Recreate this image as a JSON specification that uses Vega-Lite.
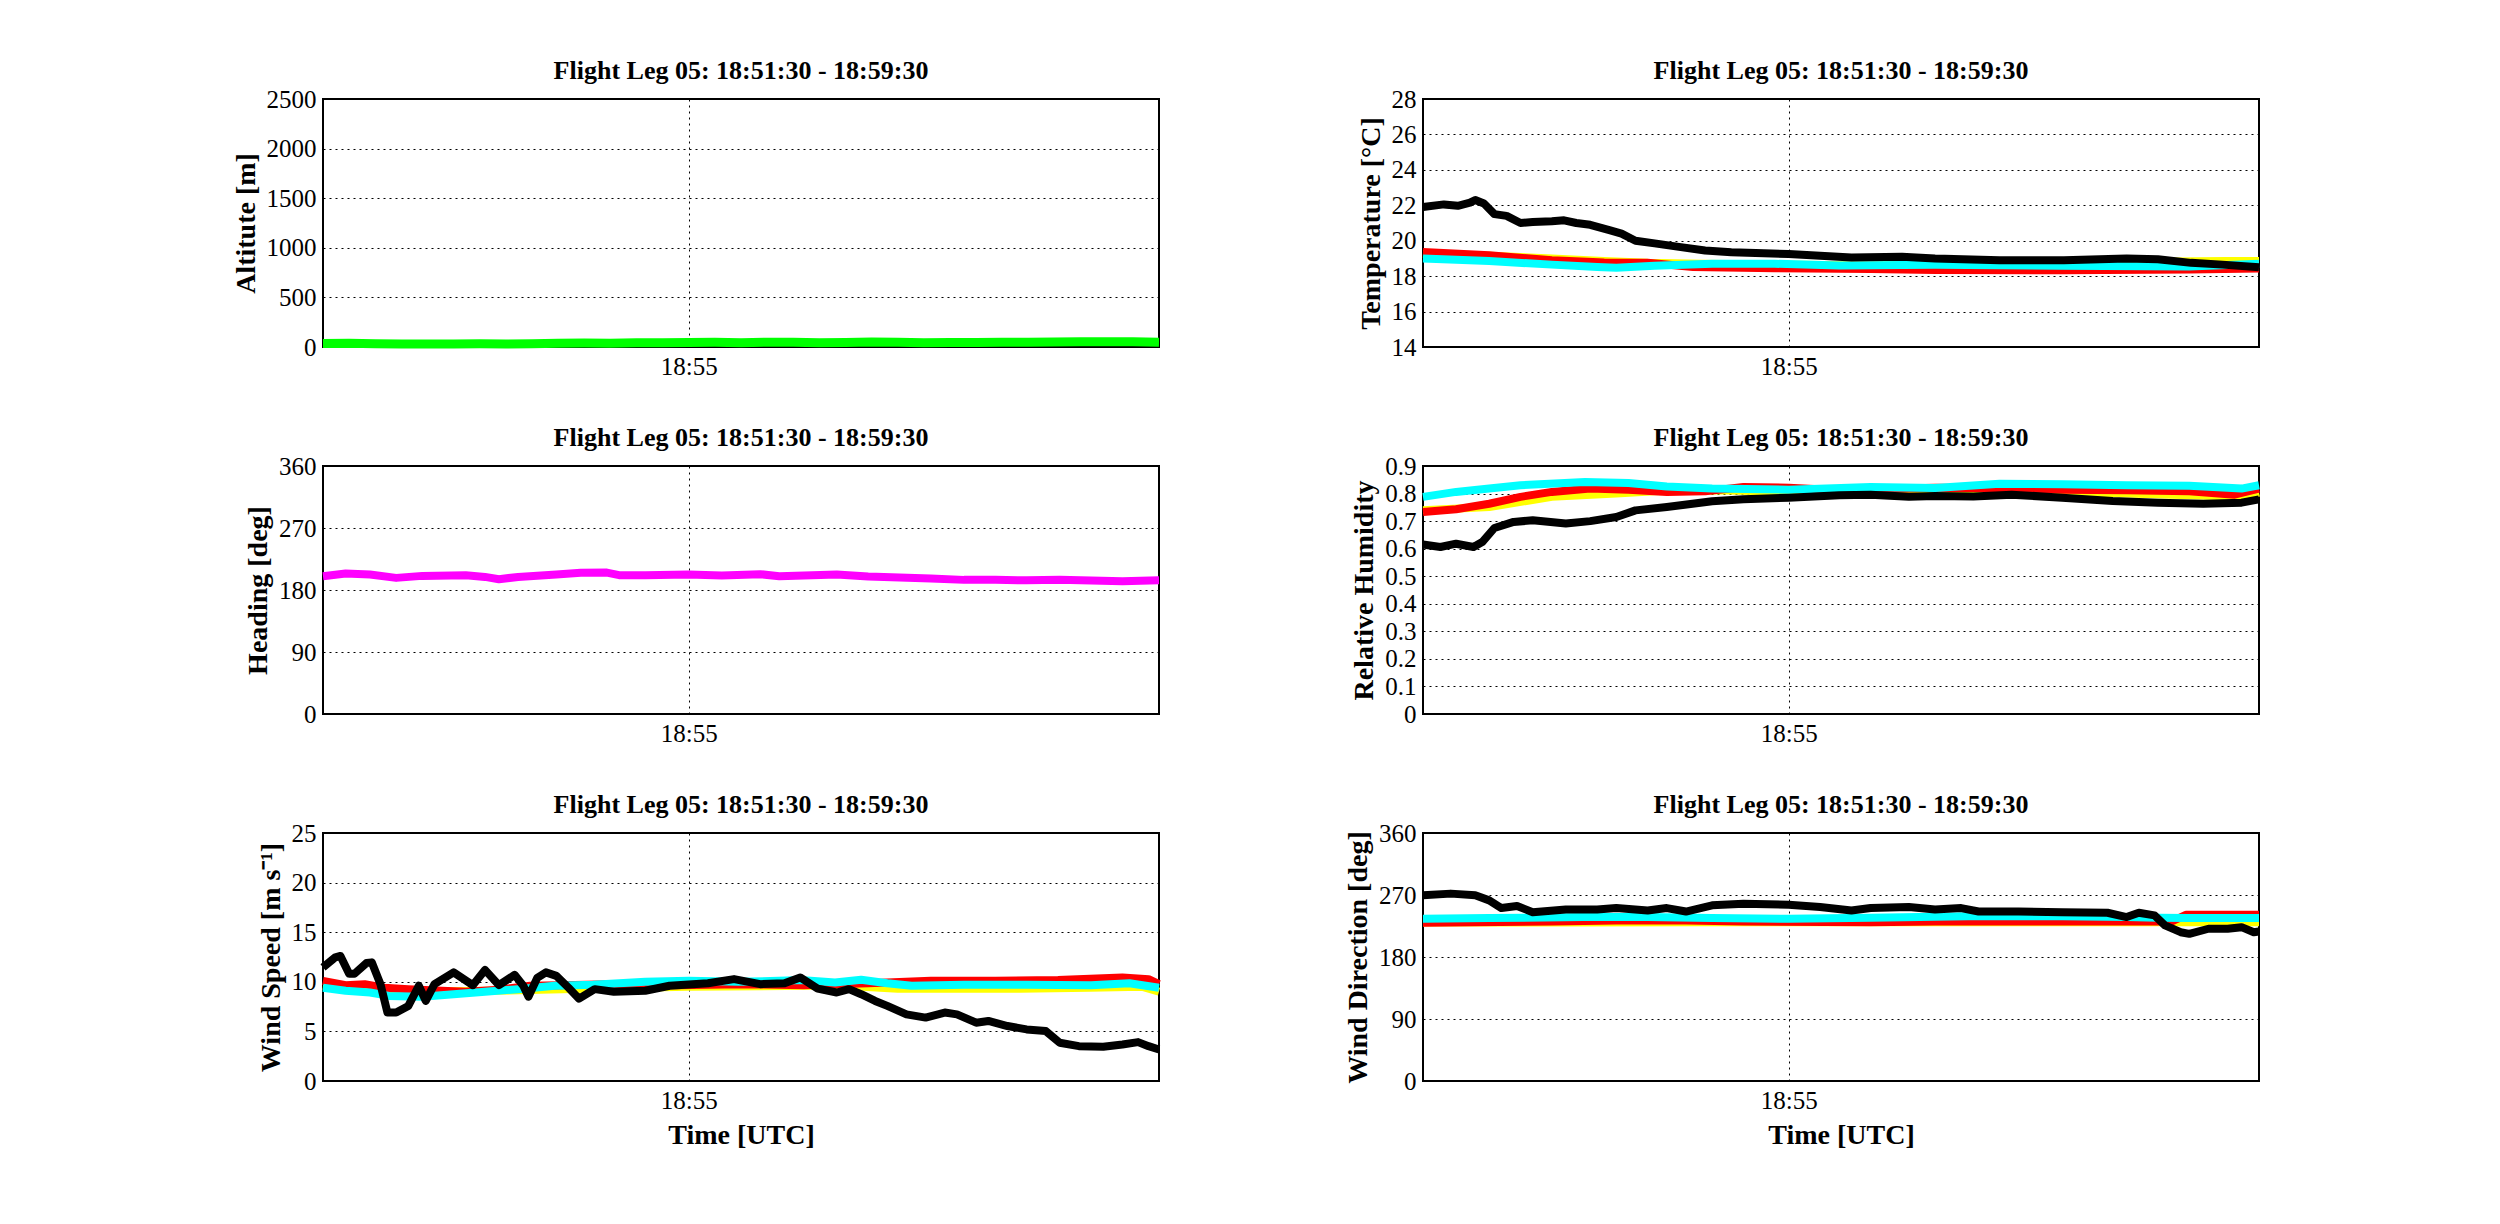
{
  "$schema": "https://vega.github.io/schema/vega-lite/v6.json",
  "background": "white",
  "padding": {"left": 231, "top": 57, "right": 20, "bottom": 20},
  "columns": 2,
  "spacing": {"row": 119, "column": 264},
  "bounds": "flush",
  "config": {
    "font": "Liberation Serif",
    "view": {"stroke": "black", "strokeWidth": 2},
    "axis": {
      "labelFont": "Liberation Serif", "labelFontSize": 25, "labelColor": "black",
      "titleFont": "Liberation Serif", "titleFontSize": 28, "titleFontWeight": "bold", "titleColor": "black",
      "ticks": false, "domain": false, "grid": true, "gridColor": "black", "gridDash": [2, 4],
      "gridWidth": 1, "gridOpacity": 1, "labelPadding": 7, "titlePadding": 6,
      "labelFlush": false, "labelOverlap": false
    },
    "title": {"font": "Liberation Serif", "fontSize": 26, "fontWeight": "bold", "color": "black", "offset": 3},
    "line": {"strokeJoin": "round", "clip": true}
  },
  "datasets": {
    "altitude": [
      {"time": "18:51:30", "value": 35}, {"time": "18:51:45", "value": 38}, {"time": "18:52:00", "value": 32},
      {"time": "18:52:15", "value": 30}, {"time": "18:52:30", "value": 30}, {"time": "18:52:45", "value": 31},
      {"time": "18:53:00", "value": 32}, {"time": "18:53:15", "value": 30}, {"time": "18:53:30", "value": 33},
      {"time": "18:53:45", "value": 38}, {"time": "18:54:00", "value": 40}, {"time": "18:54:15", "value": 37},
      {"time": "18:54:30", "value": 42}, {"time": "18:54:45", "value": 44}, {"time": "18:55:00", "value": 45},
      {"time": "18:55:15", "value": 47}, {"time": "18:55:30", "value": 44}, {"time": "18:55:45", "value": 48},
      {"time": "18:56:00", "value": 48}, {"time": "18:56:15", "value": 44}, {"time": "18:56:30", "value": 46},
      {"time": "18:56:45", "value": 50}, {"time": "18:57:00", "value": 47}, {"time": "18:57:15", "value": 44},
      {"time": "18:57:30", "value": 46}, {"time": "18:57:45", "value": 45}, {"time": "18:58:00", "value": 48},
      {"time": "18:58:15", "value": 47}, {"time": "18:58:30", "value": 50}, {"time": "18:58:45", "value": 52},
      {"time": "18:59:00", "value": 53}, {"time": "18:59:15", "value": 52}, {"time": "18:59:30", "value": 48}
    ],
    "heading": [
      {"time": "18:51:30", "value": 200}, {"time": "18:51:43", "value": 204}, {"time": "18:51:57", "value": 202.5},
      {"time": "18:52:12", "value": 197.6}, {"time": "18:52:27", "value": 200.5}, {"time": "18:52:52", "value": 201.5},
      {"time": "18:53:03", "value": 199}, {"time": "18:53:11", "value": 195.7}, {"time": "18:53:22", "value": 199},
      {"time": "18:53:44", "value": 202.5}, {"time": "18:53:58", "value": 205}, {"time": "18:54:13", "value": 205.3},
      {"time": "18:54:20", "value": 201.5}, {"time": "18:54:35", "value": 201.5}, {"time": "18:55:00", "value": 202.5},
      {"time": "18:55:19", "value": 201}, {"time": "18:55:41", "value": 203}, {"time": "18:55:52", "value": 200},
      {"time": "18:56:25", "value": 202.5}, {"time": "18:56:43", "value": 199.5}, {"time": "18:57:01", "value": 198},
      {"time": "18:57:19", "value": 196.6}, {"time": "18:57:38", "value": 194.7}, {"time": "18:57:56", "value": 194.7},
      {"time": "18:58:14", "value": 194}, {"time": "18:58:33", "value": 194.7}, {"time": "18:58:51", "value": 193.7},
      {"time": "18:59:09", "value": 192.8}, {"time": "18:59:30", "value": 194}
    ],
    "temperature": [
      {"time": "18:51:30", "series": "A", "value": 19.25}, {"time": "18:52:08", "series": "A", "value": 19.15},
      {"time": "18:52:44", "series": "A", "value": 19.0}, {"time": "18:53:14", "series": "A", "value": 18.85},
      {"time": "18:53:39", "series": "A", "value": 18.75}, {"time": "18:54:10", "series": "A", "value": 18.7},
      {"time": "18:55:47", "series": "A", "value": 18.6}, {"time": "18:57:00", "series": "A", "value": 18.75},
      {"time": "18:58:10", "series": "A", "value": 18.8}, {"time": "18:59:10", "series": "A", "value": 18.85},
      {"time": "18:59:30", "series": "A", "value": 18.85},
      {"time": "18:51:30", "series": "B", "value": 19.37}, {"time": "18:52:08", "series": "B", "value": 19.18},
      {"time": "18:52:44", "series": "B", "value": 18.9}, {"time": "18:53:14", "series": "B", "value": 18.77},
      {"time": "18:53:39", "series": "B", "value": 18.75}, {"time": "18:54:05", "series": "B", "value": 18.52},
      {"time": "18:54:52", "series": "B", "value": 18.45}, {"time": "18:55:47", "series": "B", "value": 18.4},
      {"time": "18:56:24", "series": "B", "value": 18.35}, {"time": "18:57:37", "series": "B", "value": 18.33},
      {"time": "18:58:50", "series": "B", "value": 18.37}, {"time": "18:59:30", "series": "B", "value": 18.43},
      {"time": "18:51:30", "series": "C", "value": 19.0}, {"time": "18:52:08", "series": "C", "value": 18.85},
      {"time": "18:52:44", "series": "C", "value": 18.65}, {"time": "18:53:10", "series": "C", "value": 18.52},
      {"time": "18:53:21", "series": "C", "value": 18.48}, {"time": "18:53:43", "series": "C", "value": 18.58},
      {"time": "18:54:16", "series": "C", "value": 18.7}, {"time": "18:54:52", "series": "C", "value": 18.7},
      {"time": "18:55:29", "series": "C", "value": 18.6}, {"time": "18:56:24", "series": "C", "value": 18.65},
      {"time": "18:57:37", "series": "C", "value": 18.58}, {"time": "18:58:50", "series": "C", "value": 18.55},
      {"time": "18:59:30", "series": "C", "value": 18.7},
      {"time": "18:51:30", "series": "D", "value": 21.9}, {"time": "18:51:42", "series": "D", "value": 22.05},
      {"time": "18:51:50", "series": "D", "value": 21.97}, {"time": "18:51:57", "series": "D", "value": 22.15},
      {"time": "18:52:00", "series": "D", "value": 22.3}, {"time": "18:52:05", "series": "D", "value": 22.1},
      {"time": "18:52:11", "series": "D", "value": 21.5}, {"time": "18:52:18", "series": "D", "value": 21.4},
      {"time": "18:52:26", "series": "D", "value": 21.0}, {"time": "18:52:33", "series": "D", "value": 21.05},
      {"time": "18:52:44", "series": "D", "value": 21.1}, {"time": "18:52:51", "series": "D", "value": 21.15},
      {"time": "18:52:58", "series": "D", "value": 21.0}, {"time": "18:53:06", "series": "D", "value": 20.9},
      {"time": "18:53:17", "series": "D", "value": 20.6}, {"time": "18:53:24", "series": "D", "value": 20.4},
      {"time": "18:53:32", "series": "D", "value": 20.0}, {"time": "18:53:43", "series": "D", "value": 19.85},
      {"time": "18:53:57", "series": "D", "value": 19.65}, {"time": "18:54:12", "series": "D", "value": 19.45},
      {"time": "18:54:27", "series": "D", "value": 19.35}, {"time": "18:54:41", "series": "D", "value": 19.3},
      {"time": "18:55:00", "series": "D", "value": 19.25}, {"time": "18:55:18", "series": "D", "value": 19.15},
      {"time": "18:55:36", "series": "D", "value": 19.05}, {"time": "18:56:05", "series": "D", "value": 19.1},
      {"time": "18:56:24", "series": "D", "value": 19.0}, {"time": "18:57:01", "series": "D", "value": 18.9},
      {"time": "18:57:38", "series": "D", "value": 18.9}, {"time": "18:58:14", "series": "D", "value": 19.0},
      {"time": "18:58:32", "series": "D", "value": 18.95}, {"time": "18:58:51", "series": "D", "value": 18.75},
      {"time": "18:59:09", "series": "D", "value": 18.65}, {"time": "18:59:30", "series": "D", "value": 18.5}
    ],
    "humidity": [
      {"time": "18:51:30", "series": "A", "value": 0.739}, {"time": "18:52:08", "series": "A", "value": 0.751},
      {"time": "18:52:44", "series": "A", "value": 0.788}, {"time": "18:53:21", "series": "A", "value": 0.80},
      {"time": "18:53:43", "series": "A", "value": 0.808}, {"time": "18:54:16", "series": "A", "value": 0.812},
      {"time": "18:55:11", "series": "A", "value": 0.806}, {"time": "18:56:24", "series": "A", "value": 0.803},
      {"time": "18:57:01", "series": "A", "value": 0.814}, {"time": "18:57:37", "series": "A", "value": 0.806},
      {"time": "18:58:14", "series": "A", "value": 0.80}, {"time": "18:58:50", "series": "A", "value": 0.794},
      {"time": "18:59:20", "series": "A", "value": 0.788}, {"time": "18:59:30", "series": "A", "value": 0.803},
      {"time": "18:51:30", "series": "B", "value": 0.733}, {"time": "18:51:49", "series": "B", "value": 0.743},
      {"time": "18:52:08", "series": "B", "value": 0.763}, {"time": "18:52:26", "series": "B", "value": 0.788},
      {"time": "18:52:44", "series": "B", "value": 0.806}, {"time": "18:53:06", "series": "B", "value": 0.818},
      {"time": "18:53:28", "series": "B", "value": 0.814}, {"time": "18:53:50", "series": "B", "value": 0.806},
      {"time": "18:54:12", "series": "B", "value": 0.808}, {"time": "18:54:34", "series": "B", "value": 0.824},
      {"time": "18:55:00", "series": "B", "value": 0.821}, {"time": "18:55:29", "series": "B", "value": 0.812},
      {"time": "18:56:24", "series": "B", "value": 0.821}, {"time": "18:57:01", "series": "B", "value": 0.82},
      {"time": "18:57:37", "series": "B", "value": 0.814}, {"time": "18:58:14", "series": "B", "value": 0.812},
      {"time": "18:58:50", "series": "B", "value": 0.808}, {"time": "18:59:16", "series": "B", "value": 0.796},
      {"time": "18:59:30", "series": "B", "value": 0.818},
      {"time": "18:51:30", "series": "C", "value": 0.788}, {"time": "18:51:49", "series": "C", "value": 0.806},
      {"time": "18:52:08", "series": "C", "value": 0.818}, {"time": "18:52:26", "series": "C", "value": 0.83},
      {"time": "18:53:03", "series": "C", "value": 0.842}, {"time": "18:53:28", "series": "C", "value": 0.838},
      {"time": "18:53:50", "series": "C", "value": 0.826}, {"time": "18:54:16", "series": "C", "value": 0.818},
      {"time": "18:55:00", "series": "C", "value": 0.814}, {"time": "18:55:47", "series": "C", "value": 0.824},
      {"time": "18:56:24", "series": "C", "value": 0.82}, {"time": "18:57:01", "series": "C", "value": 0.836},
      {"time": "18:57:37", "series": "C", "value": 0.834}, {"time": "18:58:14", "series": "C", "value": 0.83},
      {"time": "18:58:50", "series": "C", "value": 0.828}, {"time": "18:59:20", "series": "C", "value": 0.818},
      {"time": "18:59:30", "series": "C", "value": 0.83},
      {"time": "18:51:30", "series": "D", "value": 0.615}, {"time": "18:51:40", "series": "D", "value": 0.606},
      {"time": "18:51:49", "series": "D", "value": 0.618}, {"time": "18:51:59", "series": "D", "value": 0.606},
      {"time": "18:52:04", "series": "D", "value": 0.624}, {"time": "18:52:11", "series": "D", "value": 0.675},
      {"time": "18:52:22", "series": "D", "value": 0.697}, {"time": "18:52:33", "series": "D", "value": 0.703},
      {"time": "18:52:52", "series": "D", "value": 0.691}, {"time": "18:53:06", "series": "D", "value": 0.70},
      {"time": "18:53:21", "series": "D", "value": 0.715}, {"time": "18:53:32", "series": "D", "value": 0.739},
      {"time": "18:53:50", "series": "D", "value": 0.751}, {"time": "18:54:16", "series": "D", "value": 0.772},
      {"time": "18:54:34", "series": "D", "value": 0.779}, {"time": "18:55:00", "series": "D", "value": 0.785},
      {"time": "18:55:29", "series": "D", "value": 0.794}, {"time": "18:55:47", "series": "D", "value": 0.796},
      {"time": "18:56:09", "series": "D", "value": 0.788}, {"time": "18:56:24", "series": "D", "value": 0.791},
      {"time": "18:56:46", "series": "D", "value": 0.789}, {"time": "18:57:08", "series": "D", "value": 0.796},
      {"time": "18:57:37", "series": "D", "value": 0.785}, {"time": "18:58:06", "series": "D", "value": 0.773},
      {"time": "18:58:32", "series": "D", "value": 0.767}, {"time": "18:58:58", "series": "D", "value": 0.763},
      {"time": "18:59:20", "series": "D", "value": 0.767}, {"time": "18:59:30", "series": "D", "value": 0.779}
    ],
    "windspeed": [
      {"time": "18:51:30", "series": "A", "value": 9.6}, {"time": "18:52:05", "series": "A", "value": 9.0},
      {"time": "18:53:10", "series": "A", "value": 9.1}, {"time": "18:54:00", "series": "A", "value": 9.3},
      {"time": "18:55:00", "series": "A", "value": 9.5}, {"time": "18:56:10", "series": "A", "value": 9.6},
      {"time": "18:56:30", "series": "A", "value": 9.6}, {"time": "18:57:00", "series": "A", "value": 9.3},
      {"time": "18:57:30", "series": "A", "value": 9.3}, {"time": "18:58:10", "series": "A", "value": 9.3},
      {"time": "18:58:50", "series": "A", "value": 9.4}, {"time": "18:59:20", "series": "A", "value": 9.5},
      {"time": "18:59:30", "series": "A", "value": 9.0},
      {"time": "18:51:30", "series": "B", "value": 10.1}, {"time": "18:51:43", "series": "B", "value": 9.66},
      {"time": "18:51:54", "series": "B", "value": 9.76}, {"time": "18:52:05", "series": "B", "value": 9.4},
      {"time": "18:52:19", "series": "B", "value": 9.26}, {"time": "18:52:38", "series": "B", "value": 9.1},
      {"time": "18:52:52", "series": "B", "value": 9.0}, {"time": "18:53:11", "series": "B", "value": 9.2},
      {"time": "18:53:29", "series": "B", "value": 9.6}, {"time": "18:53:47", "series": "B", "value": 9.66},
      {"time": "18:54:16", "series": "B", "value": 9.76}, {"time": "18:54:53", "series": "B", "value": 9.66},
      {"time": "18:55:30", "series": "B", "value": 9.76}, {"time": "18:56:06", "series": "B", "value": 9.66},
      {"time": "18:56:43", "series": "B", "value": 9.86}, {"time": "18:57:19", "series": "B", "value": 10.1},
      {"time": "18:57:56", "series": "B", "value": 10.1}, {"time": "18:58:32", "series": "B", "value": 10.17},
      {"time": "18:59:09", "series": "B", "value": 10.44}, {"time": "18:59:24", "series": "B", "value": 10.27},
      {"time": "18:59:30", "series": "B", "value": 9.76},
      {"time": "18:51:30", "series": "C", "value": 9.4}, {"time": "18:51:43", "series": "C", "value": 9.1},
      {"time": "18:51:57", "series": "C", "value": 8.92}, {"time": "18:52:08", "series": "C", "value": 8.58},
      {"time": "18:52:27", "series": "C", "value": 8.5}, {"time": "18:52:45", "series": "C", "value": 8.75},
      {"time": "18:53:03", "series": "C", "value": 9.0}, {"time": "18:53:22", "series": "C", "value": 9.26},
      {"time": "18:53:43", "series": "C", "value": 9.6}, {"time": "18:54:05", "series": "C", "value": 9.7},
      {"time": "18:54:35", "series": "C", "value": 10.0}, {"time": "18:55:00", "series": "C", "value": 10.1},
      {"time": "18:55:29", "series": "C", "value": 10.0}, {"time": "18:56:06", "series": "C", "value": 10.17},
      {"time": "18:56:24", "series": "C", "value": 9.93}, {"time": "18:56:39", "series": "C", "value": 10.2},
      {"time": "18:56:54", "series": "C", "value": 9.86}, {"time": "18:57:08", "series": "C", "value": 9.6},
      {"time": "18:57:38", "series": "C", "value": 9.7}, {"time": "18:58:14", "series": "C", "value": 9.7},
      {"time": "18:58:51", "series": "C", "value": 9.66}, {"time": "18:59:13", "series": "C", "value": 9.86},
      {"time": "18:59:30", "series": "C", "value": 9.4},
      {"time": "18:51:30", "series": "D", "value": 11.45}, {"time": "18:51:37", "series": "D", "value": 12.47},
      {"time": "18:51:40", "series": "D", "value": 12.6}, {"time": "18:51:45", "series": "D", "value": 10.8},
      {"time": "18:51:48", "series": "D", "value": 10.8}, {"time": "18:51:55", "series": "D", "value": 11.9},
      {"time": "18:51:58", "series": "D", "value": 11.96}, {"time": "18:52:03", "series": "D", "value": 9.76},
      {"time": "18:52:07", "series": "D", "value": 6.9}, {"time": "18:52:12", "series": "D", "value": 6.9},
      {"time": "18:52:19", "series": "D", "value": 7.57}, {"time": "18:52:25", "series": "D", "value": 9.6},
      {"time": "18:52:29", "series": "D", "value": 8.07}, {"time": "18:52:34", "series": "D", "value": 9.76},
      {"time": "18:52:45", "series": "D", "value": 10.95}, {"time": "18:52:56", "series": "D", "value": 9.66},
      {"time": "18:53:03", "series": "D", "value": 11.2}, {"time": "18:53:11", "series": "D", "value": 9.66},
      {"time": "18:53:20", "series": "D", "value": 10.7}, {"time": "18:53:25", "series": "D", "value": 9.6},
      {"time": "18:53:28", "series": "D", "value": 8.5}, {"time": "18:53:33", "series": "D", "value": 10.4},
      {"time": "18:53:38", "series": "D", "value": 10.95}, {"time": "18:53:44", "series": "D", "value": 10.6},
      {"time": "18:53:51", "series": "D", "value": 9.4}, {"time": "18:53:57", "series": "D", "value": 8.3},
      {"time": "18:54:06", "series": "D", "value": 9.26}, {"time": "18:54:17", "series": "D", "value": 9.0},
      {"time": "18:54:35", "series": "D", "value": 9.1}, {"time": "18:54:49", "series": "D", "value": 9.6},
      {"time": "18:55:11", "series": "D", "value": 9.86}, {"time": "18:55:26", "series": "D", "value": 10.27},
      {"time": "18:55:41", "series": "D", "value": 9.76}, {"time": "18:55:55", "series": "D", "value": 9.86},
      {"time": "18:56:04", "series": "D", "value": 10.44}, {"time": "18:56:14", "series": "D", "value": 9.32},
      {"time": "18:56:25", "series": "D", "value": 8.92}, {"time": "18:56:32", "series": "D", "value": 9.26},
      {"time": "18:56:39", "series": "D", "value": 8.75}, {"time": "18:56:47", "series": "D", "value": 8.07},
      {"time": "18:56:54", "series": "D", "value": 7.57}, {"time": "18:57:05", "series": "D", "value": 6.72},
      {"time": "18:57:16", "series": "D", "value": 6.39}, {"time": "18:57:27", "series": "D", "value": 6.9},
      {"time": "18:57:34", "series": "D", "value": 6.72}, {"time": "18:57:45", "series": "D", "value": 5.88},
      {"time": "18:57:52", "series": "D", "value": 6.05}, {"time": "18:58:03", "series": "D", "value": 5.54},
      {"time": "18:58:14", "series": "D", "value": 5.2}, {"time": "18:58:25", "series": "D", "value": 5.03},
      {"time": "18:58:33", "series": "D", "value": 3.85}, {"time": "18:58:44", "series": "D", "value": 3.51},
      {"time": "18:58:58", "series": "D", "value": 3.45}, {"time": "18:59:09", "series": "D", "value": 3.68},
      {"time": "18:59:18", "series": "D", "value": 3.92}, {"time": "18:59:24", "series": "D", "value": 3.51},
      {"time": "18:59:30", "series": "D", "value": 3.18}
    ],
    "winddirection": [
      {"time": "18:51:30", "series": "A", "value": 230}, {"time": "18:54:10", "series": "A", "value": 230.5},
      {"time": "18:56:30", "series": "A", "value": 230.6}, {"time": "18:59:30", "series": "A", "value": 230.6},
      {"time": "18:51:30", "series": "B", "value": 229.6}, {"time": "18:52:44", "series": "B", "value": 231.6},
      {"time": "18:53:21", "series": "B", "value": 233}, {"time": "18:54:01", "series": "B", "value": 233},
      {"time": "18:54:34", "series": "B", "value": 231.6}, {"time": "18:55:47", "series": "B", "value": 230.6},
      {"time": "18:56:24", "series": "B", "value": 231.6}, {"time": "18:57:37", "series": "B", "value": 231.6},
      {"time": "18:58:40", "series": "B", "value": 231.6}, {"time": "18:58:48", "series": "B", "value": 241.3},
      {"time": "18:59:30", "series": "B", "value": 241.3},
      {"time": "18:51:30", "series": "C", "value": 235.5}, {"time": "18:52:08", "series": "C", "value": 236.5},
      {"time": "18:53:02", "series": "C", "value": 238}, {"time": "18:53:39", "series": "C", "value": 238},
      {"time": "18:54:16", "series": "C", "value": 236.5}, {"time": "18:55:00", "series": "C", "value": 235.5},
      {"time": "18:55:47", "series": "C", "value": 237}, {"time": "18:56:43", "series": "C", "value": 239},
      {"time": "18:57:37", "series": "C", "value": 239}, {"time": "18:58:14", "series": "C", "value": 238},
      {"time": "18:58:32", "series": "C", "value": 237}, {"time": "18:58:50", "series": "C", "value": 236.5},
      {"time": "18:59:30", "series": "C", "value": 236.5},
      {"time": "18:51:30", "series": "D", "value": 269.5}, {"time": "18:51:46", "series": "D", "value": 272},
      {"time": "18:52:00", "series": "D", "value": 269.5}, {"time": "18:52:08", "series": "D", "value": 262.2},
      {"time": "18:52:15", "series": "D", "value": 251}, {"time": "18:52:24", "series": "D", "value": 254},
      {"time": "18:52:33", "series": "D", "value": 245}, {"time": "18:52:52", "series": "D", "value": 249},
      {"time": "18:53:10", "series": "D", "value": 249}, {"time": "18:53:21", "series": "D", "value": 251},
      {"time": "18:53:39", "series": "D", "value": 247.6}, {"time": "18:53:50", "series": "D", "value": 251},
      {"time": "18:54:01", "series": "D", "value": 246}, {"time": "18:54:16", "series": "D", "value": 255},
      {"time": "18:54:34", "series": "D", "value": 257.4}, {"time": "18:55:00", "series": "D", "value": 256},
      {"time": "18:55:18", "series": "D", "value": 252.5}, {"time": "18:55:36", "series": "D", "value": 247.6},
      {"time": "18:55:47", "series": "D", "value": 251}, {"time": "18:56:09", "series": "D", "value": 252.5},
      {"time": "18:56:24", "series": "D", "value": 249}, {"time": "18:56:39", "series": "D", "value": 251},
      {"time": "18:56:49", "series": "D", "value": 246}, {"time": "18:57:12", "series": "D", "value": 246},
      {"time": "18:57:37", "series": "D", "value": 245}, {"time": "18:58:03", "series": "D", "value": 244.2},
      {"time": "18:58:14", "series": "D", "value": 238}, {"time": "18:58:21", "series": "D", "value": 244.2},
      {"time": "18:58:30", "series": "D", "value": 240.4}, {"time": "18:58:36", "series": "D", "value": 225.8},
      {"time": "18:58:45", "series": "D", "value": 216}, {"time": "18:58:50", "series": "D", "value": 213.6},
      {"time": "18:59:01", "series": "D", "value": 221}, {"time": "18:59:12", "series": "D", "value": 221},
      {"time": "18:59:20", "series": "D", "value": 223.3}, {"time": "18:59:27", "series": "D", "value": 216},
      {"time": "18:59:30", "series": "D", "value": 217}
    ]
  },
  "concat": [
    {
      "title": "Flight Leg 05: 18:51:30 - 18:59:30",
      "width": 836, "height": 248,
      "data": {"name": "altitude", "format": {"parse": {"time": "utc:'%H:%M:%S'"}}},
      "mark": {"type": "line", "color": "#00ff00", "strokeWidth": 9},
      "encoding": {
        "x": {"field": "time", "type": "temporal",
          "scale": {"type": "utc", "domain": [{"year": 1900, "month": 1, "date": 1, "hours": 18, "minutes": 51, "seconds": 30, "utc": true}, {"year": 1900, "month": 1, "date": 1, "hours": 18, "minutes": 59, "seconds": 30, "utc": true}]},
          "axis": {"title": null, "values": [{"year": 1900, "month": 1, "date": 1, "hours": 18, "minutes": 55, "utc": true}], "labelExpr": "utcFormat(datum.value, '%H:%M')"}},
        "y": {"field": "value", "type": "quantitative", "scale": {"domain": [0, 2500]},
          "axis": {"title": "Altitute [m]", "values": [0, 500, 1000, 1500, 2000, 2500], "format": "d"}}
      }
    },
    {
      "title": "Flight Leg 05: 18:51:30 - 18:59:30",
      "width": 836, "height": 248,
      "data": {"name": "temperature", "format": {"parse": {"time": "utc:'%H:%M:%S'"}}},
      "mark": {"type": "line"},
      "encoding": {
        "x": {"field": "time", "type": "temporal",
          "scale": {"type": "utc", "domain": [{"year": 1900, "month": 1, "date": 1, "hours": 18, "minutes": 51, "seconds": 30, "utc": true}, {"year": 1900, "month": 1, "date": 1, "hours": 18, "minutes": 59, "seconds": 30, "utc": true}]},
          "axis": {"title": null, "values": [{"year": 1900, "month": 1, "date": 1, "hours": 18, "minutes": 55, "utc": true}], "labelExpr": "utcFormat(datum.value, '%H:%M')"}},
        "y": {"field": "value", "type": "quantitative", "scale": {"domain": [14, 28]},
          "axis": {"title": "Temperature [°C]", "values": [14, 16, 18, 20, 22, 24, 26, 28], "format": "d"}},
        "color": {"field": "series", "type": "nominal", "scale": {"domain": ["A", "B", "C", "D"], "range": ["#ffff00", "#ff0000", "#00ffff", "#000000"]}, "legend": null},
        "strokeWidth": {"field": "series", "type": "nominal", "scale": {"domain": ["A", "B", "C", "D"], "range": [8, 8, 8, 6]}, "legend": null}
      }
    },
    {
      "title": "Flight Leg 05: 18:51:30 - 18:59:30",
      "width": 836, "height": 248,
      "data": {"name": "heading", "format": {"parse": {"time": "utc:'%H:%M:%S'"}}},
      "mark": {"type": "line", "color": "#ff00ff", "strokeWidth": 8},
      "encoding": {
        "x": {"field": "time", "type": "temporal",
          "scale": {"type": "utc", "domain": [{"year": 1900, "month": 1, "date": 1, "hours": 18, "minutes": 51, "seconds": 30, "utc": true}, {"year": 1900, "month": 1, "date": 1, "hours": 18, "minutes": 59, "seconds": 30, "utc": true}]},
          "axis": {"title": null, "values": [{"year": 1900, "month": 1, "date": 1, "hours": 18, "minutes": 55, "utc": true}], "labelExpr": "utcFormat(datum.value, '%H:%M')"}},
        "y": {"field": "value", "type": "quantitative", "scale": {"domain": [0, 360]},
          "axis": {"title": "Heading [deg]", "values": [0, 90, 180, 270, 360], "format": "d"}}
      }
    },
    {
      "title": "Flight Leg 05: 18:51:30 - 18:59:30",
      "width": 836, "height": 248,
      "data": {"name": "humidity", "format": {"parse": {"time": "utc:'%H:%M:%S'"}}},
      "mark": {"type": "line"},
      "encoding": {
        "x": {"field": "time", "type": "temporal",
          "scale": {"type": "utc", "domain": [{"year": 1900, "month": 1, "date": 1, "hours": 18, "minutes": 51, "seconds": 30, "utc": true}, {"year": 1900, "month": 1, "date": 1, "hours": 18, "minutes": 59, "seconds": 30, "utc": true}]},
          "axis": {"title": null, "values": [{"year": 1900, "month": 1, "date": 1, "hours": 18, "minutes": 55, "utc": true}], "labelExpr": "utcFormat(datum.value, '%H:%M')"}},
        "y": {"field": "value", "type": "quantitative", "scale": {"domain": [0, 0.9]},
          "axis": {"title": "Relative Humidity", "values": [0, 0.1, 0.2, 0.3, 0.4, 0.5, 0.6, 0.7, 0.8, 0.9], "format": "~g"}},
        "color": {"field": "series", "type": "nominal", "scale": {"domain": ["A", "B", "C", "D"], "range": ["#ffff00", "#ff0000", "#00ffff", "#000000"]}, "legend": null},
        "strokeWidth": {"field": "series", "type": "nominal", "scale": {"domain": ["A", "B", "C", "D"], "range": [8, 8, 8, 6]}, "legend": null}
      }
    },
    {
      "title": "Flight Leg 05: 18:51:30 - 18:59:30",
      "width": 836, "height": 248,
      "data": {"name": "windspeed", "format": {"parse": {"time": "utc:'%H:%M:%S'"}}},
      "mark": {"type": "line"},
      "encoding": {
        "x": {"field": "time", "type": "temporal",
          "scale": {"type": "utc", "domain": [{"year": 1900, "month": 1, "date": 1, "hours": 18, "minutes": 51, "seconds": 30, "utc": true}, {"year": 1900, "month": 1, "date": 1, "hours": 18, "minutes": 59, "seconds": 30, "utc": true}]},
          "axis": {"title": "Time [UTC]", "titlePadding": 8, "values": [{"year": 1900, "month": 1, "date": 1, "hours": 18, "minutes": 55, "utc": true}], "labelExpr": "utcFormat(datum.value, '%H:%M')"}},
        "y": {"field": "value", "type": "quantitative", "scale": {"domain": [0, 25]},
          "axis": {"title": "Wind Speed [m s⁻¹]", "values": [0, 5, 10, 15, 20, 25], "format": "d"}},
        "color": {"field": "series", "type": "nominal", "scale": {"domain": ["A", "B", "C", "D"], "range": ["#ffff00", "#ff0000", "#00ffff", "#000000"]}, "legend": null},
        "strokeWidth": {"field": "series", "type": "nominal", "scale": {"domain": ["A", "B", "C", "D"], "range": [8, 8, 8, 6]}, "legend": null}
      }
    },
    {
      "title": "Flight Leg 05: 18:51:30 - 18:59:30",
      "width": 836, "height": 248,
      "data": {"name": "winddirection", "format": {"parse": {"time": "utc:'%H:%M:%S'"}}},
      "mark": {"type": "line"},
      "encoding": {
        "x": {"field": "time", "type": "temporal",
          "scale": {"type": "utc", "domain": [{"year": 1900, "month": 1, "date": 1, "hours": 18, "minutes": 51, "seconds": 30, "utc": true}, {"year": 1900, "month": 1, "date": 1, "hours": 18, "minutes": 59, "seconds": 30, "utc": true}]},
          "axis": {"title": "Time [UTC]", "titlePadding": 8, "values": [{"year": 1900, "month": 1, "date": 1, "hours": 18, "minutes": 55, "utc": true}], "labelExpr": "utcFormat(datum.value, '%H:%M')"}},
        "y": {"field": "value", "type": "quantitative", "scale": {"domain": [0, 360]},
          "axis": {"title": "Wind Direction [deg]", "values": [0, 90, 180, 270, 360], "format": "d"}},
        "color": {"field": "series", "type": "nominal", "scale": {"domain": ["A", "B", "C", "D"], "range": ["#ffff00", "#ff0000", "#00ffff", "#000000"]}, "legend": null},
        "strokeWidth": {"field": "series", "type": "nominal", "scale": {"domain": ["A", "B", "C", "D"], "range": [8, 8, 8, 6]}, "legend": null}
      }
    }
  ]
}
